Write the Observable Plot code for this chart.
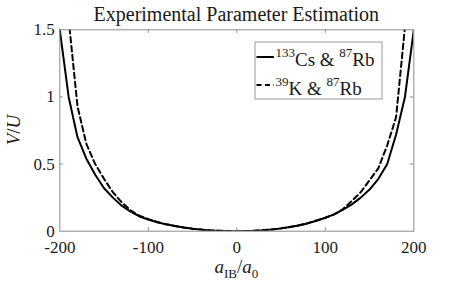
<!DOCTYPE html>
<html>
<head>
<meta charset="utf-8">
<script src="https://cdn.jsdelivr.net/npm/d3@7"></script>
<script src="https://cdn.jsdelivr.net/npm/@observablehq/plot@0.6"></script>
<style>
  html, body { margin: 0; padding: 0; background: white; }
  svg { display: block; }
</style>
</head>
<body>
<div id="chart"></div>
<script>
// ---- data ----
const xTicks = [-200, -100, 0, 100, 200];
const yTicks = [0, 0.5, 1, 1.5];

// 133Cs & 87Rb (solid)
const csX = [-200, -190, -180, -170, -160, -150, -140, -130, -120, -110, -100, -90, -80, -70, -60, -50, -40, -30, -20, -10, 0,
             10, 20, 30, 40, 50, 60, 70, 80, 90, 100, 110, 120, 130, 140, 150, 160, 170, 180, 190, 200];
const csY = [1.50, 1.00, 0.70, 0.54, 0.42, 0.32, 0.25, 0.19, 0.145, 0.11, 0.087, 0.067, 0.051, 0.038, 0.027, 0.018, 0.011, 0.006, 0.003, 0.001, 0.0,
             0.001, 0.003, 0.007, 0.013, 0.021, 0.031, 0.043, 0.058, 0.078, 0.10, 0.125, 0.16, 0.20, 0.25, 0.31, 0.39, 0.50, 0.72, 1.00, 1.50];

// 39K & 87Rb (dashed)
const kX = [-190, -180, -170, -160, -150, -140, -130, -120, -110, -100, -90, -80, -70, -60, -50, -40, -30, -20, -10, 0,
            10, 20, 30, 40, 50, 60, 70, 80, 90, 100, 110, 120, 130, 140, 150, 160, 170, 180, 190];
const kY = [1.58, 0.93, 0.65, 0.50, 0.39, 0.29, 0.215, 0.155, 0.115, 0.09, 0.069, 0.052, 0.039, 0.028, 0.019, 0.012, 0.006, 0.003, 0.001, 0.0,
            0.001, 0.003, 0.007, 0.013, 0.021, 0.031, 0.044, 0.060, 0.080, 0.10, 0.125, 0.165, 0.225, 0.29, 0.38, 0.47, 0.64, 0.85, 1.52];

const titleText = "Experimental Parameter Estimation";

const cs = csX.map((x, i) => ({x, y: csY[i]}));
const k = kX.map((x, i) => ({x, y: kY[i]}));

// ---- layout ----
const W = 457, H = 282;
const mL = 59.3, mR = 43.7, mT = 29.3, mB = 51.3;
const fh = H - mT - mB, fw = W - mL - mR;
const tickLen = 3.5;
const axisGray = "#8c8c8c";
const textCol = "#1a1a1a";
const serif = "Liberation Serif";

const plot = Plot.plot({
  width: W, height: H,
  marginLeft: mL, marginRight: mR, marginTop: mT, marginBottom: mB,
  style: {fontFamily: serif, fontSize: "17px", color: textCol, background: "white", overflow: "visible"},
  x: {domain: [-200, 200]},
  y: {domain: [0, 1.5]},
  marks: [
    Plot.line(cs, {x: "x", y: "y", stroke: "black", strokeWidth: 2, clip: true}),
    Plot.line(k, {x: "x", y: "y", stroke: "black", strokeWidth: 2, strokeDasharray: "5.5,3.5", clip: true}),
    Plot.frame({stroke: axisGray, strokeWidth: 1}),
    // inward ticks on all four sides
    Plot.tickX(xTicks.slice(1, -1), {x: d => d, insetTop: fh - tickLen, stroke: axisGray}),
    Plot.tickX(xTicks.slice(1, -1), {x: d => d, insetBottom: fh - tickLen, stroke: axisGray}),
    Plot.tickY(yTicks.slice(1, -1), {y: d => d, insetRight: fw - tickLen, stroke: axisGray}),
    Plot.tickY(yTicks.slice(1, -1), {y: d => d, insetLeft: fw - tickLen, stroke: axisGray}),
    Plot.axisX(xTicks, {tickSize: 0, tickPadding: 10, label: null, tickFormat: d => String(d), fill: textCol, fontSize: 17, fontFamily: serif}),
    Plot.axisY(yTicks, {tickSize: 0, tickPadding: 5, label: null, tickFormat: d => String(d), fill: textCol, fontSize: 17, fontFamily: serif})
  ]
});

document.getElementById("chart").appendChild(plot);

const svg = d3.select(plot);
svg.attr("font-family", serif);
const cx = mL + fw / 2;

// title
svg.append("text")
  .attr("x", cx).attr("y", 20.7)
  .attr("text-anchor", "middle")
  .attr("font-size", 20)
  .attr("fill", textCol)
  .text(titleText);

// x label: a_IB / a_0
const xl = svg.append("text")
  .attr("x", cx).attr("y", 272.5)
  .attr("text-anchor", "middle")
  .attr("font-size", 19)
  .attr("fill", textCol);
xl.append("tspan").attr("font-style", "italic").text("a");
xl.append("tspan").attr("font-size", 13).attr("dy", 5).text("IB");
xl.append("tspan").attr("dy", -5).text("/");
xl.append("tspan").attr("font-style", "italic").text("a");
xl.append("tspan").attr("font-size", 13).attr("dy", 5).text("0");

// y label: V/U
const yl = svg.append("text")
  .attr("transform", `translate(19.5,${mT + fh / 2}) rotate(-90)`)
  .attr("text-anchor", "middle")
  .attr("font-size", 19)
  .attr("fill", textCol);
yl.append("tspan").attr("font-style", "italic").text("V");
yl.append("tspan").text("/");
yl.append("tspan").attr("font-style", "italic").text("U");

// legend
const lg = svg.append("g");
lg.append("rect")
  .attr("x", 255).attr("y", 42).attr("width", 127).attr("height", 57)
  .attr("fill", "white").attr("stroke", "#999").attr("stroke-width", 1);
const entries = [
  {sup1: "133", main1: "Cs & ", sup2: "87", main2: "Rb", dash: null, ly: 57, ty: 66},
  {sup1: "39", main1: "K & ", sup2: "87", main2: "Rb", dash: "5,3.5", ly: 85, ty: 95}
];
for (const e of entries) {
  lg.append("line")
    .attr("x1", 256.5).attr("x2", 274).attr("y1", e.ly).attr("y2", e.ly)
    .attr("stroke", "black").attr("stroke-width", 2)
    .attr("stroke-dasharray", e.dash);
  const t = lg.append("text")
    .attr("x", 275.5).attr("y", e.ty)
    .attr("text-anchor", "start")
    .attr("font-size", 19)
    .attr("fill", textCol);
  t.append("tspan").attr("font-size", 13).attr("dy", -9).text(e.sup1);
  t.append("tspan").attr("dy", 9).text(e.main1);
  t.append("tspan").attr("font-size", 13).attr("dy", -9).text(e.sup2);
  t.append("tspan").attr("dy", 9).text(e.main2);
}
svg.selectAll("text").attr("font-family", serif);
</script>
</body>
</html>
